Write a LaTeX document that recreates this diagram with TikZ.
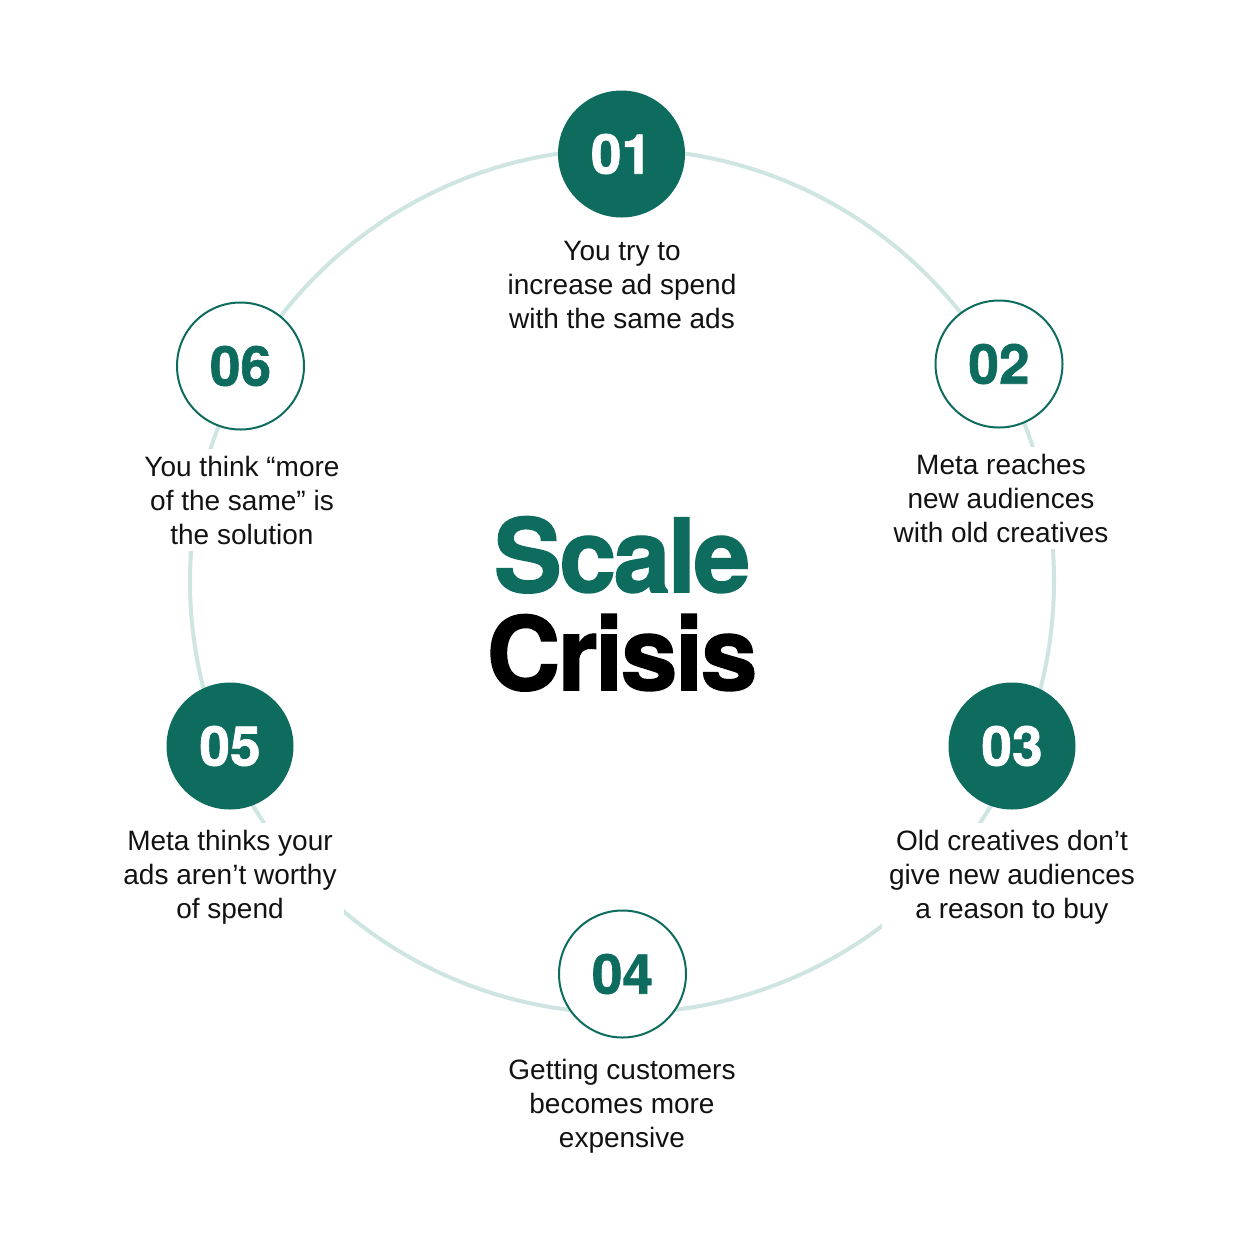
\documentclass[tikz,border=0pt]{standalone}
\usepackage{fontspec}
\setmainfont{Liberation Sans}
\newfontfamily\numfont[BoldFeatures={FakeBold=1.2}]{TeX Gyre Heros}
\newfontfamily\titlefont[LetterSpace=-2.5,BoldFeatures={FakeBold=1.5}]{TeX Gyre Heros}
\definecolor{tealA}{RGB}{14,108,95}
\definecolor{ringc}{RGB}{207,229,226}
\definecolor{ink}{RGB}{18,18,18}
\begin{document}
\begin{tikzpicture}[x=1pt,y=-1pt,
  ringline/.style={draw=ringc,line width=4pt},
  solidnum/.style={circle,fill=tealA,minimum size=127pt,inner sep=0pt,text=white,
    font=\numfont\bfseries\fontsize{55}{55}\selectfont},
  opennum/.style={circle,draw=tealA,line width=2pt,fill=white,minimum size=127pt,inner sep=0pt,text=tealA,
    font=\numfont\bfseries\fontsize{55}{55}\selectfont},
  lbl/.style={fill=white,align=center,text=ink,font=\fontsize{28}{34}\selectfont,inner sep=7pt},
  titleA/.style={text=tealA,font=\titlefont\bfseries\fontsize{102}{102}\selectfont,inner sep=0pt},
  titleB/.style={text=black,font=\titlefont\bfseries\fontsize{102}{102}\selectfont,inner sep=0pt}]
\useasboundingbox (0,0) rectangle (1254,1254);
\fill[white] (0,0) rectangle (1254,1254);
\coordinate (ctr) at (622,581);
\draw[ringline] (ctr) circle (432);
% labels
\node[lbl] (t1) at (622,285) {You try to\\increase ad spend\\with the same ads};
\node[lbl] (t2) at (1001,498) {Meta reaches\\new audiences\\with old creatives};
\node[lbl] (t3) at (1012,877) {Old creatives don’t\\give new audiences\\a reason to buy};
\node[lbl] (t4) at (622,1106) {Getting customers\\becomes more\\expensive};
\node[lbl] (t5) at (230,877) {Meta thinks your\\ads aren’t worthy\\of spend};
\node[lbl] (t6) at (242,500) {You think “more\\of the same” is\\the solution};
% numbered circles
\node[solidnum] (n1) at (621.5,154) {01};
\node[opennum] (n2) at (999,364) {02};
\node[solidnum] (n3) at (1012,746) {03};
\node[opennum] (n4) at (622.5,974) {04};
\node[solidnum] (n5) at (230,746) {05};
\node[opennum] (n6) at (240.5,366) {06};
% title
\node[titleA,anchor=base] (s) at (622,592) {Scale};
\node[titleB,anchor=base] (c) at (622,690) {Crisis};
\end{tikzpicture}
\end{document}
